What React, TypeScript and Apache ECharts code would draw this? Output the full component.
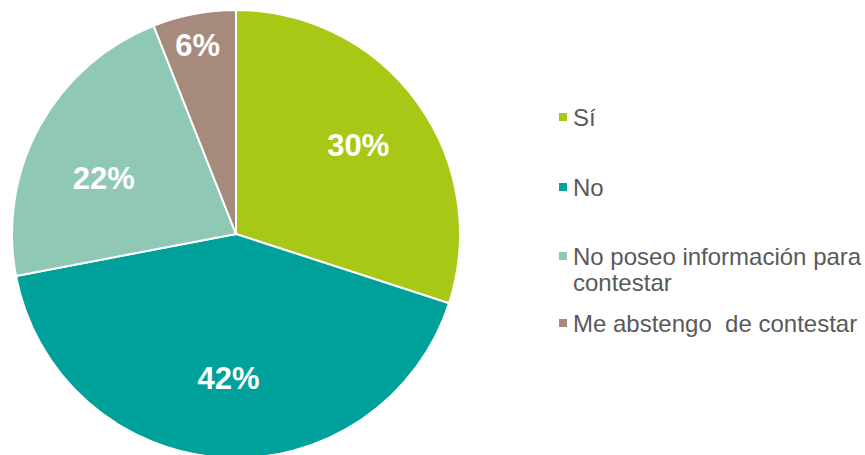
import React, { useEffect, useRef } from "react";
import * as echarts from "echarts";

const categories = ["Sí", "No", "No poseo información para contestar", "Me abstengo  de contestar"];
const values = [30, 42, 22, 6];
const colors = ["#A7C915", "#00A19A", "#8FC9B5", "#A68B7C"];
const legendNames = ["Sí", "No", "\nNo poseo información para\ncontestar", "Me abstengo  de contestar"];
const legendTops = [104, 174, 217, 310];
const labelOffsets = [[0, 0], [2, -6], [0, 17], [-10, -40]];

export default function App() {
  const ref = useRef<HTMLDivElement>(null);
  useEffect(() => {
    if (!ref.current) return;
    const chart = echarts.init(ref.current, null, { renderer: "svg" });
    const mainData = categories.map((name, i) => ({
      name,
      value: values[i],
      itemStyle: { color: colors[i] },
    }));
    const labelData = categories.map((name, i) => ({
      name,
      value: values[i],
      label: { offset: labelOffsets[i] },
    }));
    const legends = categories.map((name, i) => ({
      data: [name],
      orient: "vertical",
      left: 557,
      top: legendTops[i],
      icon: "rect",
      itemWidth: 10,
      itemHeight: 10,
      padding: 0,
      selectedMode: false,
      formatter: () => legendNames[i],
      textStyle: {
        fontFamily: "Liberation Sans, Arial, sans-serif",
        fontSize: 24,
        color: "#595959",
        lineHeight: 26,
      },
    }));
    chart.setOption({
      animation: false,
      legend: legends,
      series: [
        {
          type: "pie",
          center: [236, 234],
          radius: [0, 224],
          startAngle: 90,
          clockwise: true,
          silent: true,
          label: { show: false },
          labelLine: { show: false },
          itemStyle: { borderColor: "#ffffff", borderWidth: 2 },
          data: mainData,
        },
        {
          type: "pie",
          center: [236, 234],
          radius: [72, 224],
          startAngle: 90,
          clockwise: true,
          silent: true,
          itemStyle: { color: "transparent", borderWidth: 0 },
          label: {
            show: true,
            position: "inside",
            formatter: "{c}%",
            color: "#ffffff",
            fontFamily: "Liberation Sans, Arial, sans-serif",
            fontWeight: "bold",
            fontSize: 31,
          },
          labelLine: { show: false },
          data: labelData,
        },
      ],
    });
    return () => chart.dispose();
  }, []);
  return (
    <div
      ref={ref}
      style={{ position: "absolute", left: 0, top: 0, width: 865, height: 455 }}
    />
  );
}
